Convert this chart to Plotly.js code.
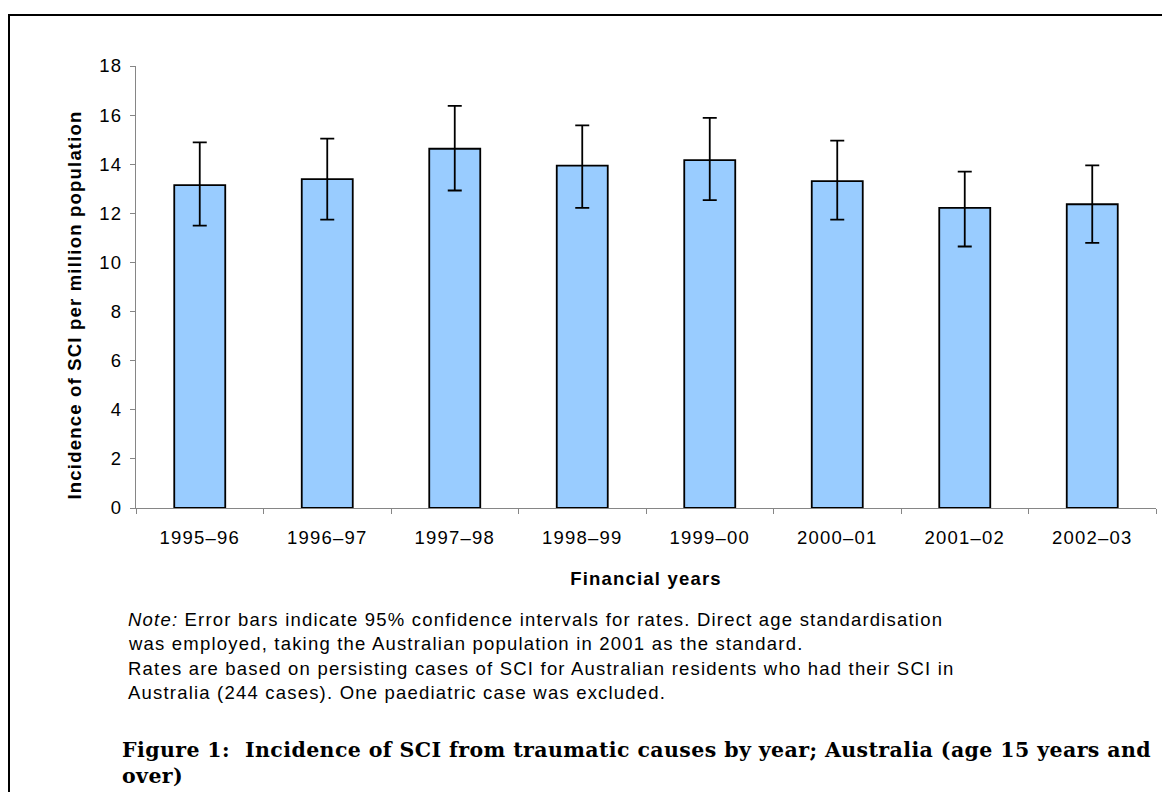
<!DOCTYPE html>
<html>
<head>
<meta charset="utf-8">
<script src="https://cdn.plot.ly/plotly-3.0.1.min.js"></script>
<style>
  html, body { margin: 0; padding: 0; background: #ffffff; }
  #chart { width: 1162px; height: 792px; }
</style>
</head>
<body>
<div id="chart"></div>
<script>
// Financial years and age-standardised incidence of traumatic SCI (per million)
const years = ['1995–96', '1996–97', '1997–98', '1998–99', '1999–00', '2000–01', '2001–02', '2002–03'];
const rates = [13.15, 13.39, 14.63, 13.94, 14.17, 13.31, 12.22, 12.37];
// 95% confidence interval bounds
const ciLower = [11.50, 11.74, 12.93, 12.22, 12.54, 11.74, 10.65, 10.80];
const ciUpper = [14.89, 15.04, 16.38, 15.58, 15.89, 14.96, 13.70, 13.95];
const yTicks = [0, 2, 4, 6, 8, 10, 12, 14, 16, 18];

const noteLines = [
  '<i>Note:</i> Error bars indicate 95% confidence intervals for rates. Direct age standardisation',
  'was employed, taking the Australian population in 2001 as the standard.',
  'Rates are based on persisting cases of SCI for Australian residents who had their SCI in',
  'Australia (244 cases). One paediatric case was excluded.'
];
const figureTitle = [
  'Figure 1:  Incidence of SCI from traumatic causes by year; Australia (age 15 years and',
  'over)'
];
const yTitle = 'Incidence of SCI per million population';
const xTitle = 'Financial years';

// plot area in page pixels
const L = 136, R = 1156, T = 66, B = 508;
const px = x => (x - L) / (R - L);
const py = y => (B - y) / (B - T);

const SANS = 'Liberation Sans, Arial, sans-serif';
const SERIF = 'DejaVu Serif, serif';
const spaced = s => '<span style="letter-spacing:1.2px">' + s + '</span>';
const spacedSerif = s => '<span style="letter-spacing:0.4px">' + s + '</span>';

const trace = {
  type: 'bar',
  x: years,
  y: rates,
  marker: { color: '#99CCFF', line: { color: '#000000', width: 1.8 } },
  error_y: {
    type: 'data',
    symmetric: false,
    array: rates.map((v, i) => ciUpper[i] - v),
    arrayminus: rates.map((v, i) => v - ciLower[i]),
    color: '#000000',
    thickness: 1.8,
    width: 7
  },
  hoverinfo: 'x+y'
};

const annotations = [];
annotations.push({
  xref: 'paper', yref: 'paper', x: px(73.5), y: py(305), textangle: -90,
  xanchor: 'center', yanchor: 'middle', showarrow: false,
  text: spaced(yTitle),
  font: { family: SANS, size: 18.5, color: '#000000', weight: 'bold' }
});
const noteY = [619, 643.5, 668, 692.5];
noteLines.forEach((t, i) => annotations.push({
  xref: 'paper', yref: 'paper', x: px(126), y: py(noteY[i]),
  xanchor: 'left', yanchor: 'middle', showarrow: false, align: 'left',
  text: spaced(t),
  font: { family: SANS, size: 18.5, color: '#000000' }
}));
const titleY = [750, 776];
figureTitle.forEach((t, i) => annotations.push({
  xref: 'paper', yref: 'paper', x: px(120), y: py(titleY[i]),
  xanchor: 'left', yanchor: 'middle', showarrow: false, align: 'left',
  text: spacedSerif(t),
  font: { family: SERIF, size: 20.5, color: '#000000', weight: 'bold' }
}));

const layout = {
  width: 1162, height: 792,
  margin: { l: L, r: 1162 - R, t: T, b: 792 - B, pad: 0 },
  paper_bgcolor: '#ffffff', plot_bgcolor: '#ffffff',
  showlegend: false,
  bargap: 0.6,
  font: { family: SANS, size: 18.5, color: '#000000' },
  xaxis: {
    type: 'category',
    tickmode: 'array', tickvals: years, ticktext: years.map(spaced),
    tickson: 'boundaries', ticks: 'outside', ticklen: 5, tickcolor: '#868686', tickwidth: 1,
    ticklabelstandoff: 13,
    showline: true, linecolor: '#868686', linewidth: 1,
    showgrid: false, zeroline: false,
    tickfont: { family: SANS, size: 18.5, color: '#000000' },
    title: { text: spaced(xTitle), standoff: 24, font: { family: SANS, size: 18.5, color: '#000000', weight: 'bold' } }
  },
  yaxis: {
    range: [0, 18],
    tickmode: 'array', tickvals: yTicks, ticktext: yTicks.map(v => spaced(String(v))),
    ticks: 'outside', ticklen: 5, tickcolor: '#868686', tickwidth: 1,
    ticklabelstandoff: 4,
    showline: true, linecolor: '#868686', linewidth: 1,
    showgrid: false, zeroline: false,
    tickfont: { family: SANS, size: 18.5, color: '#000000' }
  },
  annotations: annotations,
  shapes: [{
    type: 'rect', xref: 'paper', yref: 'paper',
    x0: px(9), x1: px(1180), y0: py(15), y1: py(810),
    line: { color: '#000000', width: 2 }, fillcolor: 'rgba(0,0,0,0)', layer: 'above'
  }]
};

Plotly.newPlot('chart', [trace], layout, { staticPlot: true, displayModeBar: false });
</script>
</body>
</html>
